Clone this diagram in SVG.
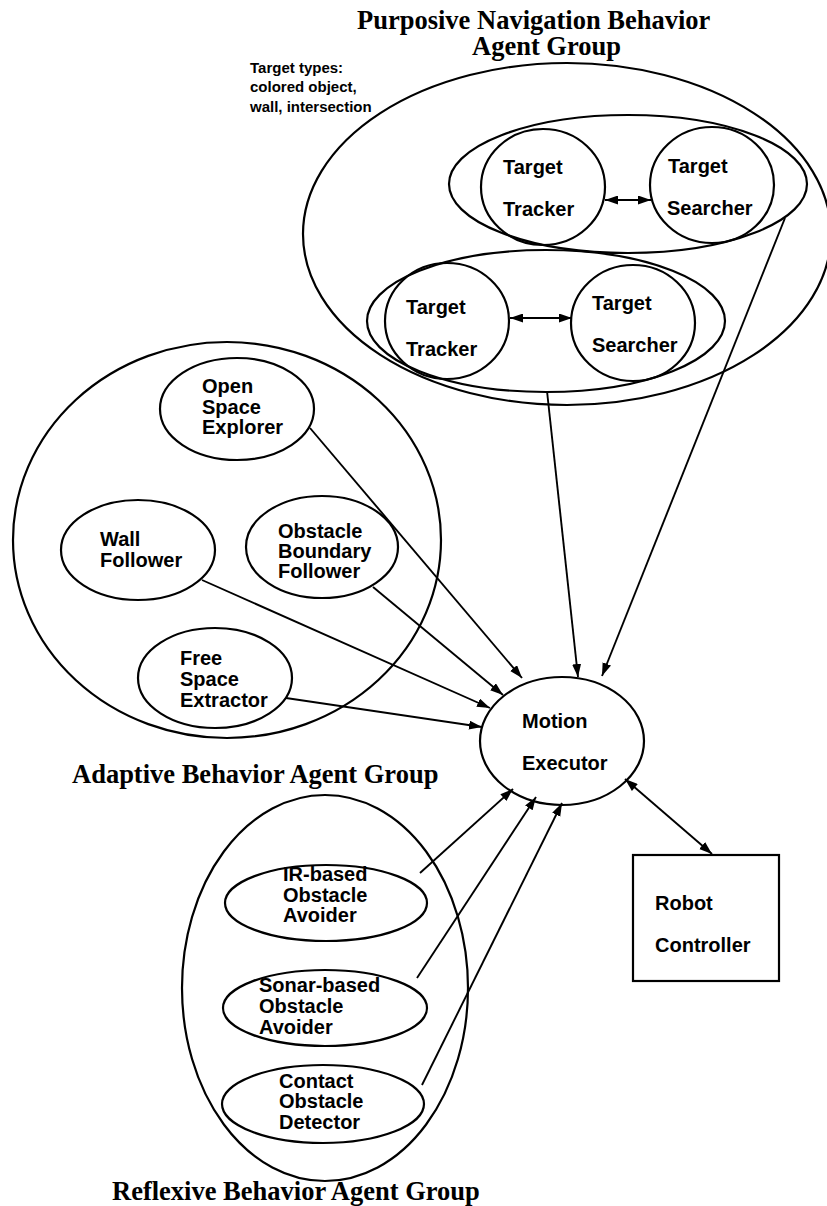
<svg xmlns="http://www.w3.org/2000/svg" width="827" height="1206" viewBox="0 0 827 1206">
  <style>
    .shape { fill: none; stroke: #000; stroke-width: 2.2; }
    .node { fill: #fff; stroke: #000; stroke-width: 2.2; }
    .link { fill: none; stroke: #000; stroke-width: 1.9; }
    .lbl { font-family: "Liberation Sans", Arial, sans-serif; font-weight: bold; font-size: 20px; fill: #000; }
    .note { font-family: "Liberation Sans", Arial, sans-serif; font-weight: bold; font-size: 15px; fill: #000; }
    .title { font-family: "Liberation Serif", "Times New Roman", serif; font-weight: bold; font-size: 26.5px; fill: #000; }
  </style>
  <defs>
    <marker id="arrow" markerUnits="userSpaceOnUse" markerWidth="14" markerHeight="10" refX="13" refY="4.5" orient="auto">
      <path d="M0,0 L13,4.5 L0,9 z" fill="#000"/>
    </marker>
    <marker id="arrow-start" markerUnits="userSpaceOnUse" markerWidth="14" markerHeight="10" refX="0" refY="4.5" orient="auto">
      <path d="M13,0 L0,4.5 L13,9 z" fill="#000"/>
    </marker>
  </defs>
  <rect width="827" height="1206" fill="#fff"/>

  <!-- Purposive navigation group -->
  <g id="purposive-group">
    <ellipse class="shape" cx="567" cy="234" rx="264" ry="171"/>
    <text class="title" x="357" y="29">Purposive Navigation Behavior</text>
    <text class="title" x="472" y="55">Agent Group</text>
    <text class="note" x="250" y="73">Target types:</text>
    <text class="note" x="250" y="92">colored object,</text>
    <text class="note" x="250" y="112">wall, intersection</text>
  </g>
  <g id="target-pair-1">
    <ellipse class="shape" cx="628" cy="184" rx="179" ry="69"/>
  </g>
  <g id="target-tracker-1">
    <ellipse class="shape" cx="543" cy="187" rx="62" ry="58"/>
    <text class="lbl" x="503" y="174">Target</text>
    <text class="lbl" x="503" y="216">Tracker</text>
  </g>
  <g id="target-searcher-1">
    <ellipse class="shape" cx="712" cy="185" rx="62" ry="58"/>
    <text class="lbl" x="668" y="173">Target</text>
    <text class="lbl" x="667" y="215">Searcher</text>
  </g>
  <g id="target-pair-2">
    <ellipse class="shape" cx="546" cy="321" rx="179" ry="71"/>
  </g>
  <g id="target-tracker-2">
    <ellipse class="shape" cx="447" cy="321" rx="62" ry="58"/>
    <text class="lbl" x="406" y="314">Target</text>
    <text class="lbl" x="406" y="356">Tracker</text>
  </g>
  <g id="target-searcher-2">
    <ellipse class="shape" cx="633" cy="323" rx="62" ry="58"/>
    <text class="lbl" x="592" y="310">Target</text>
    <text class="lbl" x="592" y="352">Searcher</text>
  </g>

  <!-- Adaptive behaviour group -->
  <g id="adaptive-group">
    <ellipse class="shape" cx="227" cy="540" rx="214" ry="198"/>
    <text class="title" x="72" y="783">Adaptive Behavior Agent Group</text>
  </g>
  <g id="open-space-explorer">
    <ellipse class="shape" cx="237" cy="409" rx="77" ry="51"/>
    <text class="lbl" x="202" y="393">Open</text>
    <text class="lbl" x="202" y="414">Space</text>
    <text class="lbl" x="202" y="434">Explorer</text>
  </g>
  <g id="wall-follower">
    <ellipse class="shape" cx="138" cy="550" rx="77" ry="50"/>
    <text class="lbl" x="100" y="546">Wall</text>
    <text class="lbl" x="100" y="567">Follower</text>
  </g>
  <g id="obstacle-boundary-follower">
    <ellipse class="shape" cx="322" cy="547" rx="76" ry="51"/>
    <text class="lbl" x="278" y="538">Obstacle</text>
    <text class="lbl" x="278" y="558">Boundary</text>
    <text class="lbl" x="278" y="578">Follower</text>
  </g>
  <g id="free-space-extractor">
    <ellipse class="shape" cx="215" cy="678" rx="77" ry="50"/>
    <text class="lbl" x="180" y="665">Free</text>
    <text class="lbl" x="180" y="686">Space</text>
    <text class="lbl" x="180" y="707">Extractor</text>
  </g>

  <!-- Reflexive behaviour group -->
  <g id="reflexive-group">
    <ellipse class="shape" cx="325" cy="988" rx="143" ry="193"/>
    <text class="title" x="112" y="1200">Reflexive Behavior Agent Group</text>
  </g>
  <g id="ir-obstacle-avoider">
    <ellipse class="shape" cx="326" cy="903" rx="101" ry="38"/>
    <text class="lbl" x="283" y="881">IR-based</text>
    <text class="lbl" x="283" y="902">Obstacle</text>
    <text class="lbl" x="283" y="922">Avoider</text>
  </g>
  <g id="sonar-obstacle-avoider">
    <ellipse class="shape" cx="325" cy="1008" rx="102" ry="38"/>
    <text class="lbl" x="259" y="992">Sonar-based</text>
    <text class="lbl" x="259" y="1013">Obstacle</text>
    <text class="lbl" x="259" y="1034">Avoider</text>
  </g>
  <g id="contact-obstacle-detector">
    <ellipse class="shape" cx="323" cy="1104" rx="101" ry="39"/>
    <text class="lbl" x="279" y="1088">Contact</text>
    <text class="lbl" x="279" y="1108">Obstacle</text>
    <text class="lbl" x="279" y="1129">Detector</text>
  </g>

  <!-- Central executor and controller -->
  <g id="motion-executor">
    <ellipse class="shape" cx="562" cy="741" rx="82" ry="64"/>
    <text class="lbl" x="522" y="728">Motion</text>
    <text class="lbl" x="522" y="770">Executor</text>
  </g>
  <g id="robot-controller">
    <rect class="shape" x="633" y="855" width="146" height="126"/>
    <text class="lbl" x="655" y="910">Robot</text>
    <text class="lbl" x="655" y="952">Controller</text>
  </g>

  <!-- Connectors -->
  <g id="connectors">
    <line class="link" x1="605" y1="200" x2="651" y2="200" marker-start="url(#arrow-start)" marker-end="url(#arrow)"/>
    <line class="link" x1="510" y1="318" x2="572" y2="318" marker-start="url(#arrow-start)" marker-end="url(#arrow)"/>
    <line class="link" x1="785" y1="218" x2="602" y2="676" marker-end="url(#arrow)"/>
    <line class="link" x1="547" y1="391" x2="578" y2="677" marker-end="url(#arrow)"/>
    <line class="link" x1="310" y1="428" x2="522" y2="678" marker-end="url(#arrow)"/>
    <line class="link" x1="373" y1="587" x2="503" y2="695" marker-end="url(#arrow)"/>
    <line class="link" x1="202" y1="580" x2="490" y2="708" marker-end="url(#arrow)"/>
    <line class="link" x1="286" y1="698" x2="482" y2="727" marker-end="url(#arrow)"/>
    <line class="link" x1="420" y1="873" x2="513" y2="789" marker-end="url(#arrow)"/>
    <line class="link" x1="417" y1="978" x2="536" y2="797" marker-end="url(#arrow)"/>
    <line class="link" x1="422" y1="1085" x2="562" y2="803" marker-end="url(#arrow)"/>
    <line class="link" x1="625" y1="779" x2="712" y2="854" marker-start="url(#arrow-start)" marker-end="url(#arrow)"/>
  </g>
</svg>
